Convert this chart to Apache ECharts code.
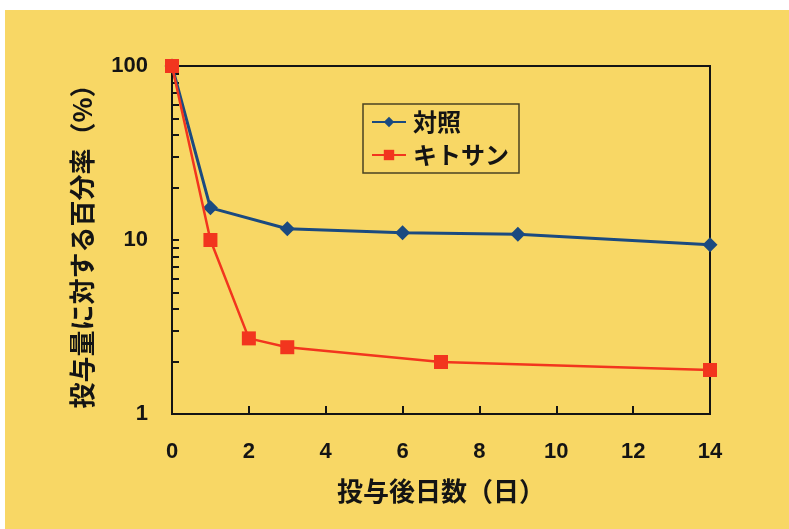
<!DOCTYPE html>
<html>
<head>
<meta charset="utf-8">
<script src="https://cdn.jsdelivr.net/npm/echarts@6/dist/echarts.min.js"></script>
<style>
  html, body { margin: 0; padding: 0; background: #ffffff; }
  #chart { position: absolute; left: 5px; top: 10px; width: 784px; height: 519px; }
</style>
</head>
<body>
<div id="chart"></div>
<script>
// Days after dosing and remaining percentage of dose (log scale)
const controlDays = [0, 1, 3, 6, 9, 14];
const controlValues = [100, 15.3, 11.6, 11.0, 10.8, 9.4];
const chitosanDays = [0, 1, 2, 3, 7, 14];
const chitosanValues = [100, 10, 2.72, 2.42, 1.99, 1.79];

const seriesNames = ['対照', 'キトサン'];
const xTicks = [0, 2, 4, 6, 8, 10, 12, 14];
const yLabels = [1, 10, 100];
const yMinorTicks = [1, 2, 3, 4, 5, 6, 7, 8, 9, 10, 20, 30, 40, 50, 60, 70, 80, 90, 100];

const xTitle = '投与後日数（日）';
const yTitle = '投与量に対する百分率（%）';

const pairs = (xs, ys) => xs.map((x, i) => [x, ys[i]]);

const cjk = '"Noto Sans CJK JP", "Noto Sans", sans-serif';
const num = '"Liberation Sans", Arial, sans-serif';
const ink = '#141414';

const chart = echarts.init(document.getElementById('chart'));
chart.setOption({
  backgroundColor: '#F8D765',
  animation: false,
  grid: {
    left: 167, right: 79, top: 56, bottom: 115,
    show: true, borderColor: ink, borderWidth: 2, backgroundColor: 'transparent'
  },
  legend: {
    orient: 'vertical',
    left: 358, top: 94,
    itemWidth: 34, itemHeight: 13, itemGap: 9,
    padding: [6, 10, 6, 8],
    borderColor: '#4a4322', borderWidth: 1.5,
    data: seriesNames,
    textStyle: { fontFamily: cjk, fontWeight: 'bold', fontSize: 24, color: ink, padding: [0, 0, 0, 2] }
  },
  xAxis: {
    type: 'value', min: xTicks[0], max: xTicks[xTicks.length - 1], interval: 2,
    name: xTitle, nameLocation: 'middle', nameGap: 64,
    nameTextStyle: { fontFamily: cjk, fontWeight: 'bold', fontSize: 26, color: ink },
    axisLine: { show: true, lineStyle: { color: ink, width: 2 } },
    axisTick: { show: true, inside: true, length: 8, lineStyle: { color: ink, width: 2 } },
    axisLabel: { margin: 27, fontFamily: num, fontWeight: 'bold', fontSize: 22, color: ink,
                 customValues: xTicks },
    splitLine: { show: false }
  },
  yAxis: {
    type: 'log', logBase: 10, min: yLabels[0], max: yLabels[yLabels.length - 1],
    name: yTitle, nameLocation: 'middle', nameGap: 77, nameRotate: 90,
    nameTextStyle: { fontFamily: cjk, fontWeight: 'bold', fontSize: 26, color: ink },
    axisLine: { show: true, lineStyle: { color: ink, width: 2 } },
    axisTick: { show: true, inside: true, length: 7, lineStyle: { color: ink, width: 2 },
                customValues: yMinorTicks },
    axisLabel: { margin: 24, fontFamily: num, fontWeight: 'bold', fontSize: 22, color: ink,
                 customValues: yLabels },
    splitLine: { show: false }
  },
  series: [
    {
      name: seriesNames[0], type: 'line',
      data: pairs(controlDays, controlValues),
      symbol: 'diamond', symbolSize: 15,
      itemStyle: { color: '#1B4A80' },
      lineStyle: { color: '#1B4A80', width: 3 },
      z: 3
    },
    {
      name: seriesNames[1], type: 'line',
      data: pairs(chitosanDays, chitosanValues),
      symbol: 'rect', symbolSize: 14,
      itemStyle: { color: '#F2351E' },
      lineStyle: { color: '#F2351E', width: 2.5 },
      z: 4
    }
  ]
});
</script>
</body>
</html>
